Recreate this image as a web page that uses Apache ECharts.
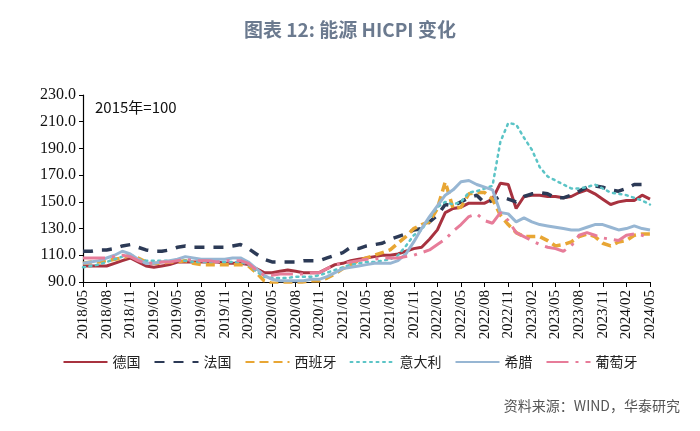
<!DOCTYPE html>
<html>
<head>
<meta charset="utf-8">
<script src="https://cdn.jsdelivr.net/npm/echarts@6/dist/echarts.min.js"></script>
<style>
html,body{margin:0;padding:0;background:#fff;}
#chart{width:700px;height:431px;}
</style>
</head>
<body>
<div id="chart"></div>
<script>
// Categories: monthly, 2018/05 .. 2024/05
const months = [
"2018/05","2018/06","2018/07","2018/08","2018/09","2018/10","2018/11","2018/12",
"2019/01","2019/02","2019/03","2019/04","2019/05","2019/06","2019/07","2019/08","2019/09","2019/10","2019/11","2019/12",
"2020/01","2020/02","2020/03","2020/04","2020/05","2020/06","2020/07","2020/08","2020/09","2020/10","2020/11","2020/12",
"2021/01","2021/02","2021/03","2021/04","2021/05","2021/06","2021/07","2021/08","2021/09","2021/10","2021/11","2021/12",
"2022/01","2022/02","2022/03","2022/04","2022/05","2022/06","2022/07","2022/08","2022/09","2022/10","2022/11","2022/12",
"2023/01","2023/02","2023/03","2023/04","2023/05","2023/06","2023/07","2023/08","2023/09","2023/10","2023/11","2023/12",
"2024/01","2024/02","2024/03","2024/04","2024/05"
];

const seriesNames = ["德国","法国","西班牙","意大利","希腊","葡萄牙"];

const germany = [
102,102,102,102,104,106,108,105,102,101,
102,103,105,105,105,105,105,105,104,104,
104,103,100,97,97,98,99,98,97,97,
97,100,103,104,106,107,108,109,110,110,
111,113,115,116,122,129,142,145,146,149,
149,149,152,164,163,145,154,155,155,154,
154,153,154,157,159,156,152,148,150,151,
151,155,152];

const france = [
113,113,114,114,115,117,118,116,114,113,
113,114,116,117,116,116,116,116,116,117,
118,115,111,107,105,105,105,105,106,106,
106,108,110,112,116,115,117,118,119,122,
124,126,129,130,135,140,148,147,150,153,
155,149,151,154,152,150,154,156,157,156,
153,153,155,158,161,162,161,159,158,160,
163,163,163];

const spain = [
104,105,105,106,107,108,110,108,105,104,
104,105,105,106,104,103,103,103,103,103,
103,102,97,91,89,89,89,89,90,91,
91,93,96,100,103,106,108,110,112,114,
119,124,130,133,135,145,165,145,146,156,
157,157,152,140,133,127,124,124,124,121,
117,118,120,124,126,124,119,117,120,121,
125,126,126];

const italy = [
101,102,103,105,107,109,110,107,106,106,
106,106,106,106,105,105,105,105,105,105,
105,103,98,94,93,93,93,94,94,94,
95,97,99,101,103,104,105,105,106,107,
110,117,125,129,138,146,150,148,150,157,
158,160,162,195,209,208,198,189,176,169,
166,163,160,160,161,163,160,157,156,155,
153,151,148];

const greece = [
104,105,106,108,110,113,111,107,104,104,
105,106,107,109,108,107,107,107,107,108,
108,105,100,95,92,91,91,91,91,92,
92,94,97,100,101,102,103,104,104,104,
106,111,120,130,139,147,155,159,165,166,
163,161,159,142,141,135,138,135,133,132,
131,130,129,129,131,133,133,131,129,130,
132,130,129];

const portugal = [
108,108,108,108,109,110,109,106,104,104,
105,105,106,107,106,106,106,105,106,106,
106,104,99,95,95,96,96,96,96,97,
97,100,103,104,105,106,107,107,108,108,
108,109,110,112,114,118,122,128,133,139,
141,136,134,142,136,127,124,121,118,116,
115,113,117,125,127,125,123,122,121,125,
126,125,123];

const yTicks = [90, 110, 130, 150, 170, 190, 210, 230];

const chart = echarts.init(document.getElementById('chart'), null, {renderer: 'canvas'});

function mk(name, data, color, width, type, cap) {
  return {
    name: name, type: 'line', data: data, symbol: 'none', smooth: false,
    lineStyle: {color: color, width: width, type: type, cap: cap || 'butt'},
    itemStyle: {color: color},
    emphasis: {disabled: true}
  };
}

const option = {
  animation: false,
  backgroundColor: '#ffffff',
  title: {
    text: '图表 12: 能源 HICPI 变化',
    left: 'center', top: 15,
    textStyle: {fontFamily: 'Noto Sans CJK SC', fontSize: 19, fontWeight: 'bold', color: '#6B7A8F'}
  },
  grid: {left: 83, right: 50, top: 95, bottom: 149, containLabel: false},
  legend: {
    bottom: 57, left: 'center',
    itemWidth: 44, itemHeight: 10, itemGap: 13,
    itemStyle: {opacity: 0},
    textStyle: {fontFamily: 'Noto Sans CJK SC', fontSize: 14, color: '#222'},
    data: seriesNames
  },
  xAxis: {
    type: 'category', data: months, boundaryGap: false,
    axisLine: {lineStyle: {color: '#000', width: 1.2}},
    axisTick: {show: true, interval: 2, length: 5, lineStyle: {color: '#000'}},
    axisLabel: {interval: 2, rotate: 90, margin: 8, fontFamily: 'Liberation Serif', fontSize: 15, color: '#111'},
    splitLine: {show: false}
  },
  yAxis: {
    type: 'value', min: yTicks[0], max: yTicks[yTicks.length - 1], interval: 20,
    axisLine: {show: true, lineStyle: {color: '#000', width: 1.2}},
    axisTick: {show: true, length: 4, lineStyle: {color: '#000'}},
    axisLabel: {formatter: v => v.toFixed(1), margin: 7, fontFamily: 'Liberation Serif', fontSize: 16, color: '#111'},
    splitLine: {show: false}
  },
  graphic: [
    {type: 'text', left: 95, top: 100, style: {text: '2015年=100', font: '15px "Noto Sans CJK SC"', fill: '#111'}},
    {type: 'text', right: 20, top: 399, style: {text: '资料来源：WIND，华泰研究', font: '14px "Noto Sans CJK SC"', fill: '#555'}}
  ],
  series: [
    mk(seriesNames[0], germany, '#A8323F', 3, 'solid'),
    mk(seriesNames[1], france, '#2C3A56', 3.5, [10, 9]),
    mk(seriesNames[2], spain, '#E8A634', 3.5, [9, 5]),
    mk(seriesNames[3], italy, '#5BC4C6', 2.5, [2, 4.5], 'round'),
    mk(seriesNames[4], greece, '#97B6D3', 3, 'solid'),
    mk(seriesNames[5], portugal, '#E77C99', 3, [22, 7, 3, 7])
  ]
};
chart.setOption(option);
</script>
</body>
</html>
